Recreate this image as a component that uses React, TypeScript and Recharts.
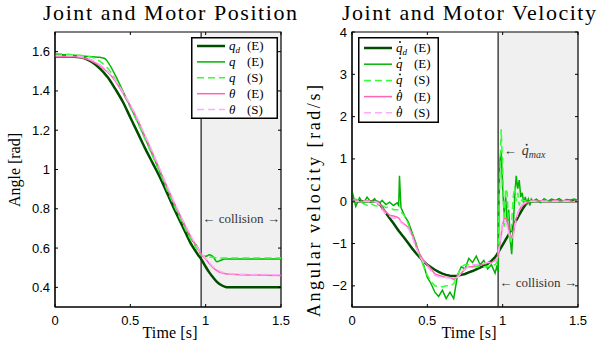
import React from 'react';
import { LineChart, Line, XAxis, YAxis, ReferenceArea, ReferenceLine, Legend } from 'recharts';

// time of the collision (start of the grey band)
const COLL = 0.97;

// ---- position panel ----
const posT = [0, 0.05, 0.1, 0.15, 0.2, 0.25, 0.3, 0.33, 0.35, 0.4, 0.45, 0.5, 0.55, 0.6, 0.65, 0.7, 0.75, 0.8, 0.85, 0.9, 0.95, 0.975, 1.0, 1.025, 1.05, 1.075, 1.1, 1.125, 1.15, 1.2, 1.3, 1.4, 1.5];
const qdPos = [1.575, 1.575, 1.575, 1.573, 1.565, 1.545, 1.512, 1.488, 1.47, 1.41, 1.345, 1.265, 1.185, 1.105, 1.03, 0.955, 0.87, 0.785, 0.705, 0.625, 0.565, 0.538, 0.505, 0.475, 0.45, 0.428, 0.413, 0.404, 0.4, 0.4, 0.4, 0.4, 0.4];
const qPosE = [1.585, 1.584, 1.583, 1.58, 1.577, 1.574, 1.571, 1.565, 1.548, 1.48, 1.4, 1.32, 1.24, 1.155, 1.07, 0.98, 0.895, 0.81, 0.73, 0.65, 0.6, 0.56, 0.558, 0.566, 0.555, 0.53, 0.538, 0.544, 0.545, 0.545, 0.545, 0.545, 0.545];
const qPosS = [1.59, 1.588, 1.585, 1.582, 1.578, 1.57, 1.55, 1.53, 1.515, 1.46, 1.39, 1.315, 1.235, 1.15, 1.065, 0.975, 0.885, 0.8, 0.72, 0.645, 0.585, 0.56, 0.552, 0.555, 0.553, 0.55, 0.55, 0.55, 0.55, 0.55, 0.55, 0.55, 0.55];
const thPosE = [1.575, 1.575, 1.575, 1.573, 1.565, 1.55, 1.527, 1.508, 1.495, 1.45, 1.39, 1.325, 1.25, 1.165, 1.08, 0.99, 0.9, 0.815, 0.735, 0.66, 0.595, 0.565, 0.545, 0.52, 0.5, 0.485, 0.475, 0.47, 0.468, 0.465, 0.463, 0.462, 0.46];
const thPosS = [1.58, 1.58, 1.579, 1.577, 1.57, 1.556, 1.533, 1.514, 1.5, 1.455, 1.395, 1.33, 1.255, 1.17, 1.085, 0.995, 0.905, 0.82, 0.74, 0.665, 0.598, 0.57, 0.548, 0.525, 0.505, 0.49, 0.48, 0.474, 0.471, 0.468, 0.466, 0.465, 0.464];
const posTicks = [0.4, 0.6, 0.8, 1, 1.2, 1.4, 1.6];

// ---- velocity panel ----
const velT = [
  0, 0.025, 0.05, 0.075, 0.1, 0.125, 0.15, 0.175, 0.2, 0.225, 0.25, 0.275, 0.3,
  0.31, 0.315, 0.325,
  0.35, 0.375, 0.4, 0.425, 0.45, 0.475, 0.5, 0.525, 0.55, 0.575, 0.6, 0.625, 0.65, 0.675, 0.7, 0.725, 0.75, 0.775, 0.8, 0.825, 0.85, 0.875, 0.9, 0.925, 0.95,
  0.96, 0.97, 0.98, 0.99, 1.0, 1.01, 1.02, 1.03, 1.04, 1.05, 1.06, 1.07, 1.08, 1.09, 1.1, 1.11, 1.12, 1.13, 1.14, 1.15, 1.16, 1.17, 1.18, 1.19, 1.2,
  1.225, 1.25, 1.275, 1.3, 1.325, 1.35, 1.375, 1.4, 1.425, 1.45, 1.475, 1.5,
];
const qdVel = [
  0, 0, 0, 0, 0, 0, 0, -0.02, -0.15, -0.28, -0.4, -0.52, -0.65,
  -0.7, -0.72, -0.77,
  -0.88, -1.0, -1.12, -1.23, -1.33, -1.42, -1.5, -1.56, -1.62, -1.67, -1.71, -1.74, -1.76, -1.77, -1.76, -1.74, -1.72, -1.68, -1.65, -1.61, -1.57, -1.53, -1.48, -1.41, -1.32,
  -1.27, -1.21, -1.15, -1.09, -1.03, -0.97, -0.91, -0.85, -0.79, -0.72, -0.66, -0.59, -0.52, -0.45, -0.39, -0.32, -0.26, -0.2, -0.14, -0.09, -0.05, -0.02, 0, 0, 0,
  0, 0, 0, 0, 0, 0, 0, 0, 0, 0, 0, 0,
];
const qVelE = [
  0.25, -0.12, 0.08, -0.05, 0.1, -0.02, 0.06, -0.08, 0.02, -0.08, -0.02, -0.1, -0.04,
  -0.1, 0.6, -0.15,
  -0.35, -0.5, -0.75, -1.0, -1.3, -1.5, -1.8, -1.95, -2.15, -2.25, -2.1, -2.3, -2.15, -2.3, -1.75, -1.55, -1.6, -1.35, -1.45, -1.3, -1.5, -1.4, -1.6, -1.5, -1.7,
  -1.55, -1.65, 0.9, 1.2, 0.3, -0.3, 0.1, -0.5, -0.2, -0.9, -1.25, -0.6, 0.1, 0.6, 0.3, 0.5, 0.1, 0.2, -0.05, 0.1, -0.05, 0.05, -0.1, 0.05, 0,
  0.05, -0.03, 0.06, 0, 0.05, 0.02, 0.06, 0, 0.04, 0.03, 0.05, 0.02,
];
const qVelS = [
  0, 0.05, 0, -0.05, -0.1, -0.05, -0.1, -0.12, -0.1, -0.15, -0.15, -0.2, -0.2,
  -0.2, -0.2, -0.25,
  -0.35, -0.55, -0.8, -1.05, -1.3, -1.55, -1.75, -1.9, -2.0, -2.02, -2.02, -2.0, -2.0, -1.95, -1.75, -1.55, -1.5, -1.5, -1.55, -1.55, -1.55, -1.55, -1.55, -1.5, -1.5,
  -1.45, -1.2, 0.5, 1.7, 0.8, -0.6, 0.3, 0.2, -0.7, -1.0, -0.5, 0.1, 0.35, 0, 0.2, -0.1, 0.05, 0, 0.02, 0, 0, 0, 0, 0, 0,
  0, 0, 0, 0, 0, 0, 0, 0, 0, 0, 0, 0,
];
const thVelE = [
  0, 0.01, -0.01, 0, 0.01, 0, -0.01, -0.02, -0.15, -0.25, -0.33, -0.35, -0.38,
  -0.4, -0.42, -0.48,
  -0.55, -0.62, -0.8, -1.05, -1.25, -1.4, -1.5, -1.6, -1.72, -1.75, -1.78, -1.8, -1.8, -1.85, -1.78, -1.7, -1.6, -1.55, -1.55, -1.5, -1.52, -1.48, -1.45, -1.45, -1.4,
  -1.38, -1.3, -1.05, -0.8, -0.55, -0.42, -0.4, -0.45, -0.65, -0.8, -0.85, -0.8, -0.55, -0.4, -0.3, -0.22, -0.15, -0.1, -0.08, -0.05, -0.03, -0.02, 0, 0, 0,
  0, 0.01, 0, -0.01, 0, 0.01, 0, 0, 0.01, 0, -0.01, 0,
];
const thVelS = [
  0, 0, 0, 0, 0, 0, 0, -0.05, -0.2, -0.3, -0.35, -0.4, -0.4,
  -0.42, -0.44, -0.5,
  -0.57, -0.65, -0.85, -1.1, -1.3, -1.45, -1.55, -1.65, -1.75, -1.78, -1.8, -1.8, -1.82, -1.82, -1.8, -1.7, -1.6, -1.55, -1.5, -1.5, -1.48, -1.47, -1.45, -1.45, -1.42,
  -1.4, -1.25, -1.0, -0.75, -0.5, -0.45, -0.5, -0.6, -0.75, -0.85, -0.9, -0.85, -0.6, -0.45, -0.3, -0.2, -0.12, -0.08, -0.05, -0.03, -0.02, 0, 0, 0, 0,
  0, 0, 0, 0, 0, 0, 0, 0, 0, 0, 0, 0,
];
const velTicks = [-2, -1, 0, 1, 2, 3, 4];
const timeTicks = [0, 0.5, 1, 1.5];

const SERIES = [
  { key: 'qd', color: '#004d00', width: 2.5, dash: undefined, sym: 'q', sub: 'd', tag: '(E)' },
  { key: 'qE', color: '#00b400', width: 1.5, dash: undefined, sym: 'q', sub: '', tag: '(E)' },
  { key: 'qS', color: '#33ff33', width: 1.5, dash: '7 4', sym: 'q', sub: '', tag: '(S)' },
  { key: 'thE', color: '#ff66b2', width: 1.5, dash: undefined, sym: 'θ', sub: '', tag: '(E)' },
  { key: 'thS', color: '#ffaaff', width: 1.5, dash: '7 4', sym: 'θ', sub: '', tag: '(S)' },
];

const posData = posT.map((t, i) => ({ t, qd: qdPos[i], qE: qPosE[i], qS: qPosS[i], thE: thPosE[i], thS: thPosS[i] }));
const velData = velT.map((t, i) => ({ t, qd: qdVel[i], qE: qVelE[i], qS: qVelS[i], thE: thVelE[i], thS: thVelS[i] }));

const SERIF = '"Liberation Serif", "Times New Roman", serif';
const SANS = '"Liberation Sans", Arial, sans-serif';

const fmt = (v: number) => (v < 0 ? '\u2212' + Math.abs(v) : String(v));

function XTick({ x, y, payload, plotTop }: any) {
  return (
    <g>
      <line x1={x} x2={x} y1={y} y2={y - 3} stroke="#000" />
      <line x1={x} x2={x} y1={plotTop} y2={plotTop + 3} stroke="#000" />
      <text x={x} y={y + 18} textAnchor="middle" fontFamily={SANS} fontSize={13} fill="#000">
        {fmt(payload.value)}
      </text>
    </g>
  );
}

function YTick({ x, y, payload, plotRight }: any) {
  return (
    <g>
      <line x1={x} x2={x + 3} y1={y} y2={y} stroke="#000" />
      <line x1={plotRight} x2={plotRight - 3} y1={y} y2={y} stroke="#000" />
      <text x={x - 5} y={y + 4.5} textAnchor="end" fontFamily={SANS} fontSize={13} fill="#000">
        {fmt(payload.value)}
      </text>
    </g>
  );
}

function PanelText({ title, cx, yLabel, yX, yY, yLen, ySize }: any) {
  return (
    <g fontFamily={SERIF} fill="#000">
      <text x={cx} y={20} fontSize={22} textAnchor="middle" textLength={254} lengthAdjust="spacing">
        {title}
      </text>
      <text x={cx} y={338} fontSize={16} textAnchor="middle" textLength={55} lengthAdjust="spacing">
        Time [s]
      </text>
      <text
        x={yX}
        y={yY}
        fontSize={ySize}
        textAnchor="middle"
        transform={`rotate(-90 ${yX} ${yY})`}
        textLength={yLen}
        lengthAdjust="spacing"
      >
        {yLabel}
      </text>
    </g>
  );
}

function CollisionMark({ x, y, width, height }: any) {
  const cy = y + height / 2 + 4;
  return (
    <g fontFamily={SERIF} fontSize={13} fill="#333">
      <text x={x + 1} y={cy}>{'\u2190'}</text>
      <text x={x + width / 2} y={cy} textAnchor="middle">collision</text>
      <text x={x + width - 1} y={cy} textAnchor="end">{'\u2192'}</text>
    </g>
  );
}

function QmaxMark({ x, y, height }: any) {
  const cy = y + height / 2 + 4;
  return (
    <g fontFamily={SERIF} fill="#333">
      <text x={x + 1} y={cy} fontSize={13}>{'\u2190'}</text>
      <text x={x + 19} y={cy} fontSize={14} fontStyle="italic">
        q<tspan fontSize={10} dy={3}>max</tspan>
      </text>
      <circle cx={x + 24} cy={cy - 10.5} r={1} fill="#333" />
    </g>
  );
}

function LegendBox({ w, h, rowY, step, dotted }: any) {
  return (
    <svg width={w} height={h} style={{ display: 'block' }}>
      <rect x={0.75} y={0.75} width={w - 1.5} height={h - 1.5} fill="#fff" stroke="#000" strokeWidth={1.5} />
      {SERIES.map((s, i) => {
        const y = rowY + i * step;
        return (
          <g key={s.key} fontFamily={SERIF} fontSize={13} fill="#000">
            <line x1={6} x2={34} y1={y} y2={y} stroke={s.color} strokeWidth={s.width} strokeDasharray={s.dash} />
            <text x={38} y={y + 4} fontStyle="italic">
              {s.sym}
              {s.sub ? <tspan fontSize={9} dy={3}>{s.sub}</tspan> : null}
            </text>
            {dotted ? <circle cx={42} cy={y - 6} r={0.9} fill="#000" /> : null}
            <text x={56} y={y + 4}>{s.tag}</text>
          </g>
        );
      })}
    </svg>
  );
}

function Panel(props: any) {
  const { data, width, yWidth, right, domain, ticks, title, cx, yLabel, yX, yY, yLen, ySize, legend, collY, qmax, dotted, curve } = props;
  const plotTop = 32;
  const plotRight = width - right;
  return (
    <LineChart width={width} height={345} data={data} margin={{ top: plotTop, right, bottom: 0, left: 0 }}>
      <ReferenceArea x1={COLL} x2={1.5} y1={domain[0]} y2={domain[1]} fill="#f0f0f0" fillOpacity={1} stroke="none" />
      <XAxis
        dataKey="t"
        type="number"
        domain={[0, 1.5]}
        ticks={timeTicks}
        height={38}
        tickSize={0}
        tickMargin={0}
        axisLine={{ stroke: '#000' }}
        tick={(p: any) => <XTick {...p} plotTop={plotTop} />}
        label={<PanelText title={title} cx={cx} yLabel={yLabel} yX={yX} yY={yY} yLen={yLen} ySize={ySize} />}
      />
      <YAxis
        type="number"
        domain={domain}
        ticks={ticks}
        width={yWidth}
        tickSize={0}
        tickMargin={0}
        axisLine={{ stroke: '#000' }}
        tick={(p: any) => <YTick {...p} plotRight={plotRight} />}
      />
      <ReferenceLine x={COLL} stroke="#444" strokeWidth={1.5} />
      {SERIES.map((s) => (
        <Line
          key={s.key}
          dataKey={s.key}
          type={curve}
          stroke={s.color}
          strokeWidth={s.width}
          strokeDasharray={s.dash}
          dot={false}
          activeDot={false}
          isAnimationActive={false}
        />
      ))}
      <ReferenceArea x1={0} x2={1.5} y1={domain[0]} y2={domain[1]} fill="none" stroke="#000" strokeWidth={1.2} />
      <ReferenceArea x1={COLL} x2={1.5} y1={collY - 0.02} y2={collY + 0.02} shape={<CollisionMark />} />
      {qmax ? <ReferenceArea x1={1.0} x2={1.3} y1={qmax - 0.02} y2={qmax + 0.02} shape={<QmaxMark />} /> : null}
      <Legend
        layout="vertical"
        align="center"
        verticalAlign="middle"
        wrapperStyle={{ left: legend.left, top: legend.top, width: legend.w, height: legend.h }}
        content={() => <LegendBox w={legend.w} h={legend.h} rowY={legend.rowY} step={legend.step} dotted={dotted} />}
      />
    </LineChart>
  );
}

export default function App() {
  return (
    <div style={{ position: 'fixed', left: 0, top: 0, width: 599, height: 345, background: '#fff', display: 'flex' }}>
      <Panel
        data={posData}
        width={300}
        yWidth={55}
        right={19}
        domain={[0.3, 1.7]}
        ticks={posTicks}
        title="Joint and Motor Position"
        cx={170}
        yLabel="Angle [rad]"
        yX={20}
        yY={170}
        yLen={74}
        ySize={16}
        legend={{ left: 191, top: 37, w: 87, h: 82, rowY: 9, step: 15.9 }}
        collY={0.75}
        curve="monotone"
      />
      <Panel
        data={velData}
        width={299}
        yWidth={52}
        right={21}
        domain={[-2.5, 4]}
        ticks={velTicks}
        title="Joint and Motor Velocity"
        cx={169}
        yLabel="Angular velocity [rad/s]"
        yX={20}
        yY={201}
        yLen={232}
        ySize={18}
        legend={{ left: 58, top: 37, w: 81, h: 86, rowY: 11, step: 16.2 }}
        collY={-1.94}
        qmax={1.18}
        dotted
        curve="linear"
      />
    </div>
  );
}
